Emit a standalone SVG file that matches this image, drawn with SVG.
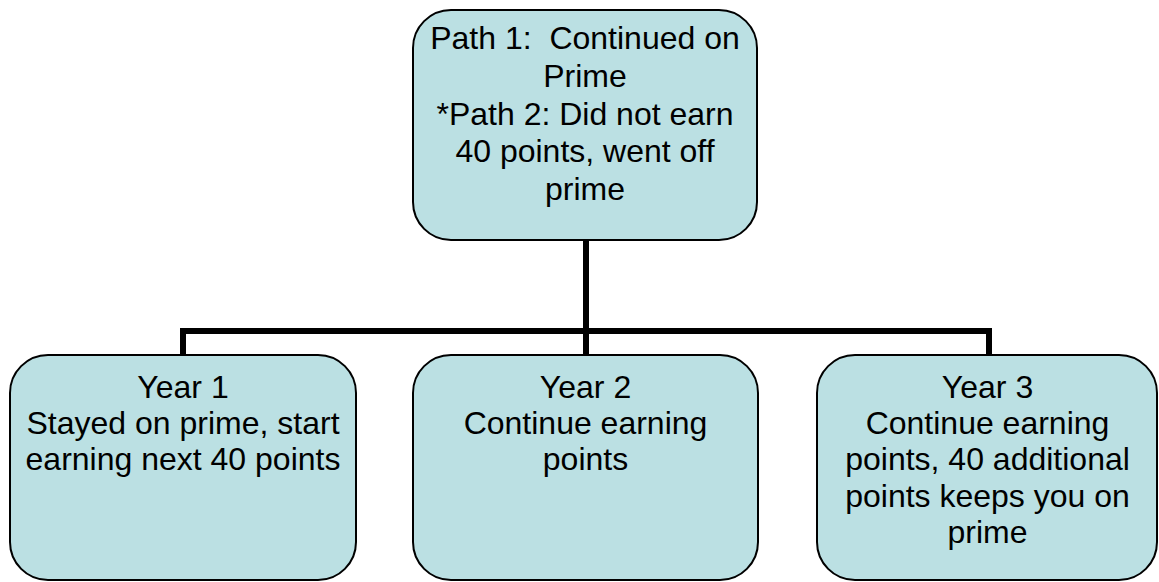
<svg xmlns="http://www.w3.org/2000/svg" width="1159" height="582" viewBox="0 0 1159 582">
  <style>
    .box { fill: #BBE0E3; stroke: #000000; stroke-width: 2; }
    .conn { fill: none; stroke: #000000; stroke-width: 6; stroke-linejoin: miter; stroke-linecap: butt; }
    .lbl { font-family: "Liberation Sans", Arial, sans-serif; font-size: 32px; fill: #000000; text-anchor: middle; white-space: pre; }
  </style>
  <rect width="1159" height="582" fill="#ffffff"/>
  <g id="connectors">
    <path class="conn" d="M586 240 V331"/>
    <path class="conn" d="M183 355 V331 H989 V355"/>
    <path class="conn" d="M586 331 V355"/>
  </g>
  <g id="node-top">
    <rect class="box" x="413" y="10" width="344" height="230" rx="38" ry="38"/>
    <text class="lbl" x="585" y="48.5" xml:space="preserve">Path 1:  Continued on</text>
    <text class="lbl" x="585" y="86.5">Prime</text>
    <text class="lbl" x="585" y="124.5">*Path 2: Did not earn</text>
    <text class="lbl" x="585" y="162">40 points, went off</text>
    <text class="lbl" x="585" y="199.5">prime</text>
  </g>
  <g id="node-year1">
    <rect class="box" x="10" y="355" width="346" height="225" rx="38" ry="38"/>
    <text class="lbl" x="183" y="398">Year 1</text>
    <text class="lbl" x="183" y="434">Stayed on prime, start</text>
    <text class="lbl" x="183" y="470">earning next 40 points</text>
  </g>
  <g id="node-year2">
    <rect class="box" x="413" y="355" width="345" height="225" rx="38" ry="38"/>
    <text class="lbl" x="585.5" y="398">Year 2</text>
    <text class="lbl" x="585.5" y="434">Continue earning</text>
    <text class="lbl" x="585.5" y="470">points</text>
  </g>
  <g id="node-year3">
    <rect class="box" x="817" y="355" width="340" height="225" rx="38" ry="38"/>
    <text class="lbl" x="987.5" y="398">Year 3</text>
    <text class="lbl" x="987.5" y="434">Continue earning</text>
    <text class="lbl" x="987.5" y="470">points, 40 additional</text>
    <text class="lbl" x="987.5" y="506.5">points keeps you on</text>
    <text class="lbl" x="987.5" y="543">prime</text>
  </g>
</svg>
